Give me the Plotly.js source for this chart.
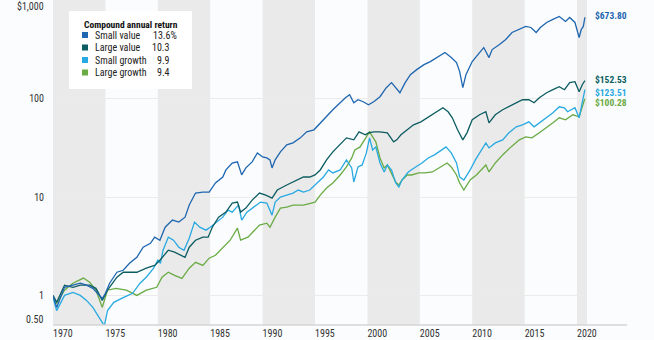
<!DOCTYPE html>
<html><head><meta charset="utf-8">
<script src="https://cdn.plot.ly/plotly-3.0.1.min.js"></script>
<style>html,body{margin:0;padding:0;background:#fafcfd;} #chart{width:654px;height:340px;} text{font-stretch:condensed;}</style>
</head><body><div id="chart"></div>
<script>
const seriesNames = ['Small value', 'Large value', 'Small growth', 'Large growth'];
const seriesColors = ['#1f66b0', '#0c5c62', '#29a9e1', '#6aab45'];
const annualReturns = [13.6, 10.3, 9.9, 9.4];
const endingValues = [673.80, 152.53, 123.51, 100.28];

const smallValue = [[1970.0,1.00],[1970.35,0.755],[1971.1,1.21],[1971.9,1.27],[1972.6,1.33],[1973.2,1.27],[1973.8,1.18],[1974.7,0.93],[1975.0,1.05],[1975.4,1.33],[1976.1,1.72],[1976.7,1.80],[1977.3,2.12],[1978.0,2.44],[1978.6,3.09],[1979.3,3.39],[1979.7,3.91],[1980.2,3.64],[1980.7,4.94],[1981.4,5.83],[1982.0,5.56],[1982.6,6.25],[1983.0,8.29],[1983.6,11.0],[1984.3,11.25],[1984.9,11.25],[1985.5,13.9],[1986.2,16.0],[1986.5,18.9],[1987.1,22.2],[1987.6,22.8],[1988.0,16.8],[1988.4,19.8],[1989.0,22.8],[1989.5,28.1],[1990.0,25.6],[1990.4,25.0],[1990.7,23.9],[1990.9,19.8],[1991.2,23.9],[1991.7,28.8],[1992.3,33.9],[1992.9,35.6],[1993.6,40.0],[1994.2,46.1],[1994.9,48.3],[1995.5,56.9],[1996.1,65.5],[1996.7,77.2],[1997.4,91.0],[1997.9,102.4],[1998.3,109.8],[1998.7,91.0],[1999.1,97.7],[1999.6,93.2],[2000.1,86.9],[2000.6,93.2],[2001.2,104.8],[2001.8,129.5],[2002.3,145.7],[2002.8,123.5],[2003.1,115.1],[2003.6,145.7],[2004.1,175.8],[2004.7,197.7],[2005.4,222.3],[2006.0,238.6],[2006.6,262.1],[2007.4,294.7],[2008.0,262.1],[2008.5,233.0],[2008.8,188.6],[2009.1,129.5],[2009.4,175.8],[2010.0,238.6],[2010.7,294.7],[2011.1,331.4],[2011.6,262.1],[2011.9,316.2],[2012.6,355.6],[2013.2,399.9],[2013.8,471.6],[2014.5,505.9],[2015.1,542.9],[2015.6,530.3],[2016.1,471.6],[2016.5,530.3],[2017.1,596.5],[2017.7,640.0],[2018.3,686.5],[2018.9,610.6],[2019.3,670.8],[2019.8,596.5],[2020.2,419.3],[2020.4,505.9],[2020.6,542.9],[2020.75,673.80]];

const largeValue = [[1970.0,1.00],[1970.35,0.85],[1971.1,1.27],[1971.9,1.21],[1972.6,1.27],[1973.5,1.27],[1974.1,1.18],[1974.7,0.89],[1975.2,1.13],[1976.1,1.53],[1976.7,1.72],[1978.0,1.72],[1978.9,1.89],[1979.7,2.02],[1980.2,2.28],[1981.0,2.88],[1981.6,2.75],[1982.3,2.56],[1982.6,2.44],[1983.0,3.09],[1983.6,3.64],[1984.3,3.91],[1984.8,3.91],[1985.2,4.94],[1985.8,6.25],[1986.5,7.03],[1987.1,8.69],[1987.6,8.89],[1987.9,7.03],[1988.4,7.72],[1989.0,9.32],[1989.7,10.99],[1990.3,10.48],[1990.9,9.77],[1991.4,11.79],[1992.3,13.26],[1993.3,14.91],[1993.9,16.0],[1994.5,16.0],[1995.0,16.77],[1995.5,18.86],[1996.1,23.86],[1996.7,28.79],[1997.4,33.93],[1998.0,39.99],[1998.7,38.16],[1999.2,46.06],[1999.8,42.93],[2000.1,44.99],[2000.6,46.06],[2001.2,46.06],[2001.9,44.99],[2002.2,40.95],[2002.5,36.41],[2002.8,38.16],[2003.2,42.93],[2003.8,48.28],[2004.4,54.29],[2005.1,58.26],[2005.7,64.0],[2006.4,71.97],[2007.2,80.95],[2007.7,73.69],[2008.1,64.0],[2008.6,48.28],[2009.1,38.16],[2009.5,44.99],[2010.0,61.06],[2010.7,68.67],[2011.3,73.69],[2011.6,56.9],[2012.2,68.67],[2012.9,77.24],[2013.5,82.88],[2014.2,91.04],[2014.8,97.68],[2015.4,97.68],[2015.9,91.04],[2016.4,102.4],[2017.1,115.1],[2017.7,123.5],[2018.3,132.6],[2018.8,123.5],[2019.3,145.7],[2019.8,149.1],[2020.2,117.9],[2020.5,138.9],[2020.75,152.53]];

const smallGrowth = [[1970.0,0.95],[1970.35,0.70],[1971.1,1.0],[1971.9,1.07],[1972.6,1.0],[1973.2,0.89],[1973.8,0.755],[1974.4,0.60],[1974.9,0.49],[1975.2,0.70],[1975.8,0.85],[1976.7,0.95],[1977.6,1.05],[1978.3,1.33],[1978.9,1.53],[1979.6,1.89],[1980.0,2.28],[1980.25,2.12],[1980.5,2.88],[1981.0,3.91],[1981.5,3.64],[1982.0,3.09],[1982.5,2.88],[1983.0,3.82],[1983.5,5.56],[1984.0,4.94],[1984.6,4.61],[1985.0,4.94],[1985.6,5.56],[1986.2,6.25],[1986.7,7.37],[1987.1,7.03],[1987.7,8.29],[1988.0,5.83],[1988.5,7.03],[1989.1,7.91],[1989.8,8.89],[1990.4,8.69],[1990.9,6.55],[1991.2,8.89],[1991.7,10.0],[1992.3,10.48],[1992.9,10.99],[1993.4,11.79],[1993.9,11.25],[1994.5,11.79],[1995.2,13.9],[1995.8,16.0],[1996.3,18.86],[1996.7,17.58],[1997.4,18.86],[1998.0,23.86],[1998.5,19.77],[1998.7,14.23],[1999.1,20.24],[1999.5,21.21],[1999.9,28.12],[2000.2,39.99],[2000.5,30.17],[2000.8,32.37],[2001.2,22.23],[2001.6,17.99],[2001.9,21.21],[2002.3,18.86],[2002.7,13.9],[2003.0,12.65],[2003.3,14.91],[2003.9,17.99],[2004.6,20.24],[2005.2,22.23],[2005.8,25.0],[2006.4,26.83],[2007.1,30.17],[2007.5,32.37],[2008.0,28.12],[2008.5,22.23],[2008.8,16.0],[2009.2,14.91],[2009.8,18.86],[2010.3,23.86],[2011.3,35.56],[2011.6,31.62],[2012.2,35.56],[2012.9,38.16],[2013.5,44.99],[2014.2,51.8],[2014.8,54.29],[2015.4,58.26],[2015.9,51.8],[2016.4,56.9],[2017.1,64.0],[2017.7,71.97],[2018.3,82.88],[2018.8,80.95],[2019.1,73.69],[2019.8,80.95],[2020.2,64.0],[2020.5,91.04],[2020.75,123.51]];

const largeGrowth = [[1970.0,1.0],[1970.35,0.83],[1971.1,1.13],[1971.9,1.33],[1972.9,1.5],[1973.5,1.36],[1974.1,1.13],[1974.7,0.755],[1975.2,1.13],[1976.0,1.18],[1977.0,1.13],[1978.0,1.0],[1978.9,1.13],[1979.9,1.21],[1980.4,1.53],[1981.0,1.72],[1981.6,1.60],[1982.3,1.49],[1983.0,1.89],[1983.6,2.17],[1984.3,2.02],[1984.9,2.39],[1985.5,2.56],[1986.2,3.09],[1986.9,3.64],[1987.6,4.83],[1987.9,3.64],[1988.6,3.91],[1989.2,4.61],[1989.7,5.18],[1990.4,5.43],[1990.7,4.94],[1991.2,6.25],[1991.7,7.72],[1992.3,7.91],[1992.9,8.29],[1993.9,8.29],[1994.5,8.69],[1995.0,8.89],[1995.5,10.48],[1996.1,12.36],[1996.7,13.9],[1997.4,16.77],[1998.0,20.24],[1998.5,25.0],[1998.8,30.17],[1999.3,32.37],[1999.9,40.95],[2000.2,46.06],[2000.5,40.95],[2000.8,36.41],[2001.2,25.0],[2001.6,19.77],[2001.9,21.21],[2002.3,17.58],[2002.7,14.23],[2003.0,13.26],[2003.3,14.91],[2003.8,16.77],[2004.2,16.77],[2004.9,17.58],[2005.5,17.58],[2006.2,17.99],[2006.8,19.77],[2007.6,22.23],[2008.0,20.24],[2008.5,16.77],[2008.8,13.9],[2009.2,11.79],[2009.8,14.91],[2010.4,16.77],[2011.3,21.21],[2011.6,17.99],[2012.2,22.23],[2012.9,26.83],[2013.7,32.37],[2014.5,38.16],[2015.1,40.95],[2015.7,39.99],[2016.4,44.99],[2017.1,50.59],[2017.7,56.9],[2018.3,64.0],[2018.9,61.06],[2019.6,68.67],[2020.2,65.53],[2020.5,82.88],[2020.75,100.28]];

const xTickVals = [1970, 1975, 1980, 1985, 1990, 1995, 2000, 2005, 2010, 2015, 2020];
const yTickVals = [1, 10, 100];
const yTickText = ['1', '10', '100'];
const yEdgeVals = [1000, 0.5];
const yEdgeText = ['$1,000', '0.50'];
const bandStarts = [1970, 1980, 1990, 2000, 2010, 2020];

const allSeries = [smallValue, largeValue, smallGrowth, largeGrowth];
const FONT = "'Roboto Condensed','Liberation Sans Narrow',Roboto,sans-serif";
const X_END = 2020.95;
const PLOT_H = 325;

const traces = allSeries.map((s, i) => ({
  type: 'scatter', mode: 'lines',
  x: s.map(p => p[0]), y: s.map(p => p[1]),
  name: seriesNames[i],
  line: {color: seriesColors[i], width: 1.3},
  hoverinfo: 'skip'
}));
const ordered = [traces[3], traces[2], traces[1], traces[0]];

const shapes = bandStarts.map(b => ({
  type: 'rect', xref: 'x', yref: 'paper', x0: b, x1: Math.min(b + 5, X_END), y0: 0, y1: 1,
  fillcolor: '#eaeaea', line: {width: 0}, layer: 'below'
}));
shapes.push({type: 'line', xref: 'paper', yref: 'paper', x0: 0, x1: 1.075, y0: 0, y1: 0,
  line: {color: '#d6d6d6', width: 1.5}});

const pxX = px => (px - 53) / 534;
const pxY = py => 1 - py / PLOT_H;
shapes.push({type: 'rect', xref: 'paper', yref: 'paper', x0: pxX(69), x1: pxX(192), y0: pxY(89), y1: pxY(11),
  fillcolor: '#ffffff', line: {width: 0}, layer: 'above'});

const annotations = [];
annotations.push({xref: 'paper', yref: 'paper', x: pxX(82), y: pxY(24), xanchor: 'left', yanchor: 'middle',
  text: '<b>Compound annual return</b>', showarrow: false, font: {family: FONT, size: 9.5, color: '#111'}});
const rowY = [35, 47.5, 60, 72.5];
seriesNames.forEach((n, i) => {
  shapes.push({type: 'rect', xref: 'paper', yref: 'paper', x0: pxX(82), x1: pxX(88), y0: pxY(rowY[i] + 3), y1: pxY(rowY[i] - 3),
    fillcolor: seriesColors[i], line: {width: 0}, layer: 'above'});
  annotations.push({xref: 'paper', yref: 'paper', x: pxX(93), y: pxY(rowY[i]), xanchor: 'left', yanchor: 'middle',
    text: n, showarrow: false, font: {family: FONT, size: 10, color: '#222'}});
  const withPct = i === 0;
  annotations.push({xref: 'paper', yref: 'paper', x: pxX(withPct ? 179 : 172), y: pxY(rowY[i]), xanchor: 'right', yanchor: 'middle',
    text: annualReturns[i].toFixed(1) + (withPct ? '%' : ''), showarrow: false, font: {family: FONT, size: 10, color: '#222'}});
});

const endShift = [2, 1, -2.5, -4];
endingValues.forEach((v, i) => {
  annotations.push({xref: 'paper', yref: 'y', x: 1.012, y: Math.log10(v), xanchor: 'left', yanchor: 'middle',
    yshift: endShift[i],
    text: '<b>$' + v.toFixed(2) + '</b>', showarrow: false, font: {family: FONT, size: 9.5, color: seriesColors[i]}});
});
const edgeShift = [-6, 6];
yEdgeVals.forEach((v, i) => {
  annotations.push({xref: 'paper', yref: 'y', x: pxX(46), y: Math.log10(v), xanchor: 'right', yanchor: 'middle',
    yshift: edgeShift[i], text: yEdgeText[i], showarrow: false, font: {family: FONT, size: 10, color: '#333'}});
});

const layout = {
  width: 654, height: 340,
  margin: {l: 53, r: 67, t: 0, b: 340 - PLOT_H, pad: 0},
  paper_bgcolor: '#fafcfd', plot_bgcolor: '#fafcfd',
  showlegend: false,
  font: {family: FONT, size: 10, color: '#333'},
  xaxis: {
    range: [1970, X_END], tickvals: xTickVals, ticktext: xTickVals.map(String),
    ticklabelposition: 'outside right', ticks: '', showgrid: false, zeroline: false, showline: false,
    ticklabelstandoff: 1,
    tickfont: {family: FONT, size: 10, color: '#333'}, fixedrange: true
  },
  yaxis: {
    type: 'log', range: [Math.log10(0.5), 3.004], tickvals: yTickVals, ticktext: yTickText,
    ticks: '', showgrid: true, gridcolor: '#ebebeb', gridwidth: 1, showline: false, zeroline: false,
    ticklabelstandoff: 8,
    tickfont: {family: FONT, size: 10, color: '#333'}, fixedrange: true
  },
  shapes: shapes,
  annotations: annotations
};

Plotly.newPlot('chart', ordered, layout, {displayModeBar: false, staticPlot: true});
</script>
</body></html>
